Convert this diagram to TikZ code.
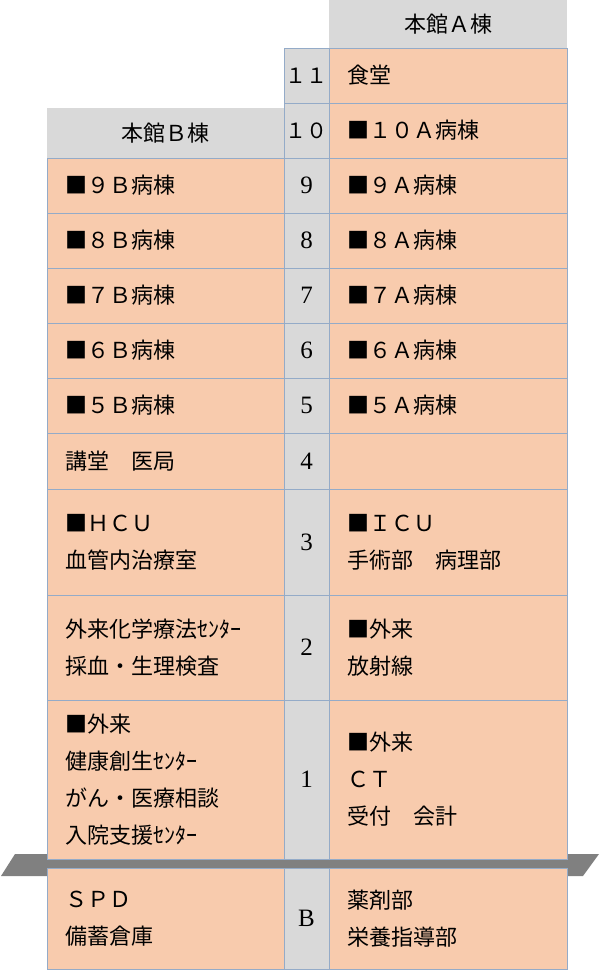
\documentclass[tikz,border=0pt]{standalone}
\usepackage{fontspec}
\newfontfamily\jp{Noto Sans CJK JP}
\newfontfamily\numf{Liberation Serif}
\definecolor{peach}{HTML}{F8CBAD}
\definecolor{hdrgray}{HTML}{D9D9D9}
\definecolor{edgeblue}{HTML}{94ABC8}
\definecolor{bandgray}{HTML}{808080}
\begin{document}
\begin{tikzpicture}[x=1pt,y=-1pt,
  cellbox/.style={draw=edgeblue, line width=0.9pt, fill=peach, anchor=north west, inner sep=0pt, outer sep=0pt},
  stairbox/.style={draw=edgeblue, line width=0.9pt, fill=hdrgray, anchor=north west, inner sep=0pt, outer sep=0pt},
  hdrbox/.style={fill=hdrgray, anchor=north west, inner sep=0pt, outer sep=0pt},
  lbl/.style={anchor=west, align=left, inner sep=0pt, font=\jp\fontsize{22}{37}\selectfont},
  hdrtxt/.style={inner sep=0pt, font=\jp\fontsize{22}{26}\selectfont},
  numtxt/.style={inner sep=0pt, font=\numf\fontsize{25}{28}\selectfont},
  wnumtxt/.style={inner sep=0pt, font=\jp\fontsize{21}{26}\selectfont}]
\useasboundingbox (0,0) rectangle (600,971);
% ground band
\fill[bandgray] (15,854) -- (599,854) -- (583,876) -- (1,876) -- cycle;
% headers
\node[hdrbox, minimum width=238pt, minimum height=48pt] (hA) at (329,0) {};
\node[hdrbox, minimum width=237pt, minimum height=50pt] (hB) at (47,108) {};
\node[hdrtxt] (thA) at (hA.center) {本館Ａ棟};
\node[hdrtxt] (thB) at (hB.center) {本館Ｂ棟};
% stair column
\node[stairbox, minimum width=45pt, minimum height=55pt] (s11) at (284,48) {};
\node[stairbox, minimum width=45pt, minimum height=55pt] (s10) at (284,103) {};
\node[stairbox, minimum width=45pt, minimum height=55pt] (s9) at (284,158) {};
\node[stairbox, minimum width=45pt, minimum height=55pt] (s8) at (284,213) {};
\node[stairbox, minimum width=45pt, minimum height=55pt] (s7) at (284,268) {};
\node[stairbox, minimum width=45pt, minimum height=55pt] (s6) at (284,323) {};
\node[stairbox, minimum width=45pt, minimum height=55pt] (s5) at (284,378) {};
\node[stairbox, minimum width=45pt, minimum height=56pt] (s4) at (284,433) {};
\node[stairbox, minimum width=45pt, minimum height=106pt] (s3) at (284,489) {};
\node[stairbox, minimum width=45pt, minimum height=105pt] (s2) at (284,595) {};
\node[stairbox, minimum width=45pt, minimum height=159pt] (s1) at (284,700) {};
\node[stairbox, minimum width=45pt, minimum height=101pt] (sB) at (284,868) {};
\node[wnumtxt] (n11) at (s11.center) {１１};
\node[wnumtxt] (n10) at (s10.center) {１０};
\node[numtxt] (n9) at (s9.center) {9};
\node[numtxt] (n8) at (s8.center) {8};
\node[numtxt] (n7) at (s7.center) {7};
\node[numtxt] (n6) at (s6.center) {6};
\node[numtxt] (n5) at (s5.center) {5};
\node[numtxt] (n4) at (s4.center) {4};
\node[numtxt] (n3) at (s3.center) {3};
\node[numtxt] (n2) at (s2.center) {2};
\node[numtxt] (n1) at (s1.center) {1};
\node[numtxt] (nB) at (sB.center) {B};
% A building (right)
\node[cellbox, minimum width=238pt, minimum height=55pt] (a11) at (329,48) {};
\node[cellbox, minimum width=238pt, minimum height=55pt] (a10) at (329,103) {};
\node[cellbox, minimum width=238pt, minimum height=55pt] (a9) at (329,158) {};
\node[cellbox, minimum width=238pt, minimum height=55pt] (a8) at (329,213) {};
\node[cellbox, minimum width=238pt, minimum height=55pt] (a7) at (329,268) {};
\node[cellbox, minimum width=238pt, minimum height=55pt] (a6) at (329,323) {};
\node[cellbox, minimum width=238pt, minimum height=55pt] (a5) at (329,378) {};
\node[cellbox, minimum width=238pt, minimum height=56pt] (a4) at (329,433) {};
\node[cellbox, minimum width=238pt, minimum height=106pt] (a3) at (329,489) {};
\node[cellbox, minimum width=238pt, minimum height=105pt] (a2) at (329,595) {};
\node[cellbox, minimum width=238pt, minimum height=159pt] (a1) at (329,700) {};
\node[cellbox, minimum width=238pt, minimum height=101pt] (aB) at (329,868) {};
% B building (left)
\node[cellbox, minimum width=237pt, minimum height=55pt] (b9) at (47,158) {};
\node[cellbox, minimum width=237pt, minimum height=55pt] (b8) at (47,213) {};
\node[cellbox, minimum width=237pt, minimum height=55pt] (b7) at (47,268) {};
\node[cellbox, minimum width=237pt, minimum height=55pt] (b6) at (47,323) {};
\node[cellbox, minimum width=237pt, minimum height=55pt] (b5) at (47,378) {};
\node[cellbox, minimum width=237pt, minimum height=56pt] (b4) at (47,433) {};
\node[cellbox, minimum width=237pt, minimum height=106pt] (b3) at (47,489) {};
\node[cellbox, minimum width=237pt, minimum height=105pt] (b2) at (47,595) {};
\node[cellbox, minimum width=237pt, minimum height=159pt] (b1) at (47,700) {};
\node[cellbox, minimum width=237pt, minimum height=101pt] (bB) at (47,868) {};
% right texts
\node[lbl] (ta11) at ([xshift=18pt]a11.west) {食堂};
\node[lbl] (ta10) at ([xshift=18pt]a10.west) {■１０Ａ病棟};
\node[lbl] (ta9) at ([xshift=18pt]a9.west) {■９Ａ病棟};
\node[lbl] (ta8) at ([xshift=18pt]a8.west) {■８Ａ病棟};
\node[lbl] (ta7) at ([xshift=18pt]a7.west) {■７Ａ病棟};
\node[lbl] (ta6) at ([xshift=18pt]a6.west) {■６Ａ病棟};
\node[lbl] (ta5) at ([xshift=18pt]a5.west) {■５Ａ病棟};
\node[lbl] (ta3) at ([xshift=18pt]a3.west) {■ＩＣＵ\\手術部　病理部};
\node[lbl] (ta2) at ([xshift=18pt]a2.west) {■外来\\放射線};
\node[lbl] (ta1) at ([xshift=18pt]a1.west) {■外来\\ＣＴ\\受付　会計};
\node[lbl] (taB) at ([xshift=18pt]aB.west) {薬剤部\\栄養指導部};
% left texts
\node[lbl] (tb9) at ([xshift=18pt]b9.west) {■９Ｂ病棟};
\node[lbl] (tb8) at ([xshift=18pt]b8.west) {■８Ｂ病棟};
\node[lbl] (tb7) at ([xshift=18pt]b7.west) {■７Ｂ病棟};
\node[lbl] (tb6) at ([xshift=18pt]b6.west) {■６Ｂ病棟};
\node[lbl] (tb5) at ([xshift=18pt]b5.west) {■５Ｂ病棟};
\node[lbl] (tb4) at ([xshift=18pt]b4.west) {講堂　医局};
\node[lbl] (tb3) at ([xshift=18pt]b3.west) {■ＨＣＵ\\血管内治療室};
\node[lbl] (tb2) at ([xshift=18pt]b2.west) {外来化学療法ｾﾝﾀｰ\\採血・生理検査};
\node[lbl] (tb1) at ([xshift=18pt]b1.west) {■外来\\健康創生ｾﾝﾀｰ\\がん・医療相談\\入院支援ｾﾝﾀｰ};
\node[lbl] (tbB) at ([xshift=18pt]bB.west) {ＳＰＤ\\備蓄倉庫};
\end{tikzpicture}
\end{document}
